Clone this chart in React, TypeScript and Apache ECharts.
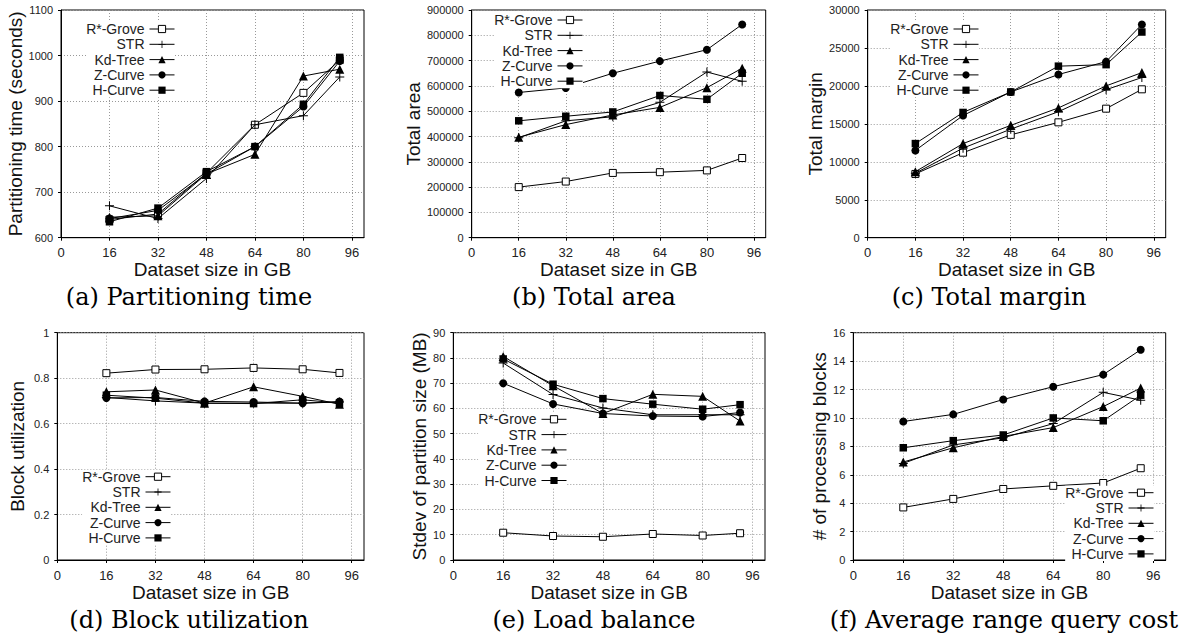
import React, { useEffect, useRef } from "react";
import * as echarts from "echarts";

// ---------- data ----------
const sizes = [16, 32, 48, 64, 80, 92];
const xTickValues = [0, 16, 32, 48, 64, 80, 96];
const methods = ["R*-Grove", "STR", "Kd-Tree", "Z-Curve", "H-Curve"];

// (a) Partitioning time (seconds)
const timeRStarGrove = [640, 652, 742, 848, 918, 990];
const timeSTR = [670, 642, 730, 848, 868, 953];
const timeKdTree = [645, 648, 740, 783, 955, 970];
const timeZCurve = [642, 660, 740, 800, 888, 988];
const timeHCurve = [635, 665, 745, 800, 893, 996];

// (b) Total area
const areaRStarGrove = [200000, 222000, 256000, 259000, 266000, 315000];
const areaSTR = [395000, 462000, 478000, 535000, 655000, 618000];
const areaKdTree = [397000, 447000, 485000, 515000, 593000, 670000];
const areaZCurve = [574000, 592000, 650000, 698000, 743000, 843000];
const areaHCurve = [462000, 480000, 497000, 562000, 547000, 650000];

// (c) Total margin
const marginRStarGrove = [8400, 11200, 13550, 15200, 17000, 19550];
const marginSTR = [8500, 11800, 14300, 16600, 19500, 21100];
const marginKdTree = [8700, 12400, 14800, 17100, 20000, 21750];
const marginZCurve = [11500, 16100, 19200, 21500, 23200, 28100];
const marginHCurve = [12400, 16500, 19200, 22600, 22800, 27100];

// (d) Block utilization
const utilRStarGrove = [0.822, 0.838, 0.839, 0.845, 0.839, 0.823];
const utilSTR = [0.715, 0.7, 0.69, 0.69, 0.69, 0.695];
const utilKdTree = [0.74, 0.748, 0.69, 0.762, 0.72, 0.685];
const utilZCurve = [0.713, 0.715, 0.698, 0.695, 0.69, 0.697];
const utilHCurve = [0.725, 0.712, 0.69, 0.688, 0.705, 0.69];

// (e) Load balance: stdev of partition size (MB)
const stdevRStarGrove = [10.8, 9.5, 9.2, 10.3, 9.7, 10.6];
const stdevSTR = [78, 65.5, 60.2, 57.5, 57.5, 57.5];
const stdevKdTree = [80.6, 69, 58, 65.6, 64.8, 55];
const stdevZCurve = [70, 61.8, 58, 57, 56.8, 58.4];
const stdevHCurve = [79.6, 69.6, 63.9, 61.7, 59.7, 61.5];

// (f) Average range query cost: # of processing blocks
const blocksRStarGrove = [3.7, 4.3, 5.0, 5.22, 5.42, 6.46];
const blocksSTR = [6.8, 8.1, 8.6, 9.6, 11.8, 11.25];
const blocksKdTree = [6.9, 7.9, 8.7, 9.32, 10.8, 12.1];
const blocksZCurve = [9.75, 10.25, 11.3, 12.2, 13.05, 14.8];
const blocksHCurve = [7.9, 8.4, 8.8, 10.0, 9.8, 11.6];

const panelValues = [
  [timeRStarGrove, timeSTR, timeKdTree, timeZCurve, timeHCurve],
  [areaRStarGrove, areaSTR, areaKdTree, areaZCurve, areaHCurve],
  [marginRStarGrove, marginSTR, marginKdTree, marginZCurve, marginHCurve],
  [utilRStarGrove, utilSTR, utilKdTree, utilZCurve, utilHCurve],
  [stdevRStarGrove, stdevSTR, stdevKdTree, stdevZCurve, stdevHCurve],
  [blocksRStarGrove, blocksSTR, blocksKdTree, blocksZCurve, blocksHCurve],
];

const captions = [
  "(a) Partitioning time",
  "(b) Total area",
  "(c) Total margin",
  "(d) Block utilization",
  "(e) Load balance",
  "(f) Average range query cost",
];
const yNames = [
  "Partitioning time (seconds)",
  "Total area",
  "Total margin",
  "Block utilization",
  "Stdev of partition size (MB)",
  "# of processing blocks",
];
const xName = "Dataset size in GB";
const yMin = [600, 0, 0, 0, 0, 0];
const yMax = [1100, 900000, 30000, 1, 90, 16];
const yInterval = [100, 100000, 5000, 0.2, 10, 2];

// ---------- layout / styles ----------
const W = 1186;
const H = 644;
const layout = [
  { left: 61, top: 10, width: 303, height: 227.7, nameGap: 33.5, lgRight: 175, lgRow: 29, cap: [189, 297], xm: 8 },
  { left: 471.7, top: 10, width: 294, height: 227.7, nameGap: 44, lgRight: 583, lgRow: 20, cap: [594, 297], xm: 8 },
  { left: 867.7, top: 10, width: 298, height: 227.7, nameGap: 38, lgRight: 979, lgRow: 29, cap: [989, 297], xm: 8 },
  { left: 57.3, top: 332.7, width: 306.7, height: 227.3, nameGap: 30.8, lgRight: 171, lgRow: 476.7, cap: [189, 620], xm: 9 },
  { left: 453.3, top: 332.7, width: 311.7, height: 227.3, nameGap: 24.8, lgRight: 567, lgRow: 419.3, cap: [594, 620], xm: 9 },
  { left: 853.3, top: 332.7, width: 312.4, height: 227.3, nameGap: 22, lgRight: 1154, lgRow: 492.7, cap: [1004, 620], xm: 9 },
];

const SANS = '"Liberation Sans", Arial, sans-serif';
const SERIF = '"DejaVu Serif", serif';

const plusPath = "path://M4,0h1v4h4v1h-4v4h-1v-4h-4v-1h4z";
const methodStyle = [
  { symbol: "rect", symbolSize: 7, itemStyle: { color: "#fff", borderColor: "#000", borderWidth: 1 } },
  { symbol: plusPath, symbolSize: 9, itemStyle: { color: "#000" } },
  { symbol: "triangle", symbolSize: 9, itemStyle: { color: "#000" } },
  { symbol: "circle", symbolSize: 8, itemStyle: { color: "#000" } },
  { symbol: "rect", symbolSize: 7.5, itemStyle: { color: "#000" } },
];

function buildOption() {
  const grid: any[] = [];
  const xAxis: any[] = [];
  const yAxis: any[] = [];
  const legend: any[] = [];
  const series: any[] = [];
  const graphic: any[] = [];

  layout.forEach((L, p) => {
    grid.push({
      left: L.left,
      top: L.top,
      width: L.width,
      height: L.height,
      show: true,
      borderColor: "#000",
      borderWidth: 1,
      backgroundColor: "transparent",
      containLabel: false,
    });
    xAxis.push({
      type: "value",
      gridIndex: p,
      min: 0,
      max: 100,
      interval: 16,
      name: xName,
      nameLocation: "middle",
      nameGap: 20,
      nameTextStyle: { fontFamily: SANS, fontSize: 19, color: "#111" },
      axisLine: { show: true, lineStyle: { color: "#000", width: 1 } },
      axisTick: { show: true, inside: false, length: 3, lineStyle: { color: "#000" }, customValues: xTickValues },
      axisLabel: {
        fontFamily: SANS,
        fontSize: 13,
        color: "#222",
        margin: L.xm,
        customValues: xTickValues,
        formatter: (v: number) => String(v),
      },
      splitLine: { show: true, lineStyle: { color: "#999", width: 1, type: [1, 2] } },
    });
    yAxis.push({
      type: "value",
      gridIndex: p,
      min: yMin[p],
      max: yMax[p],
      interval: yInterval[p],
      name: yNames[p],
      nameLocation: "middle",
      nameGap: L.nameGap,
      nameTextStyle: { fontFamily: SANS, fontSize: 19, color: "#111" },
      axisLine: { show: true, lineStyle: { color: "#000", width: 1 } },
      axisTick: { show: true, inside: false, length: 3, lineStyle: { color: "#000" } },
      axisLabel: {
        fontFamily: SANS,
        fontSize: 11,
        color: "#222",
        margin: 8,
        formatter: (v: number) => String(Math.round(v * 1000) / 1000),
      },
      splitLine: { show: true, lineStyle: { color: "#999", width: 1, type: [1, 2] } },
    });
    legend.push({
      orient: "vertical",
      align: "right",
      right: W - L.lgRight,
      top: L.lgRow - 7,
      itemWidth: 25,
      itemHeight: 9,
      itemGap: 1.3,
      padding: 0,
      backgroundColor: "#fff",
      selectedMode: false,
      data: methods,
      lineStyle: { width: 1 },
      itemStyle: { borderWidth: 1 },
      textStyle: { fontFamily: SANS, fontSize: 14, color: "#222", lineHeight: 14 },
    });
    methods.forEach((m, k) => {
      const st = methodStyle[k];
      series.push({
        type: "line",
        name: m,
        xAxisIndex: p,
        yAxisIndex: p,
        data: sizes.map((x, i) => [x, panelValues[p][k][i]]),
        symbol: st.symbol,
        symbolSize: st.symbolSize,
        showSymbol: true,
        itemStyle: st.itemStyle,
        lineStyle: { color: "#000", width: 1 },
        emphasis: { disabled: true },
        silent: true,
        z: 2 + k * 0.01,
      });
    });
    graphic.push({
      type: "text",
      x: L.cap[0],
      y: L.cap[1],
      style: {
        text: captions[p],
        font: `24px ${SERIF}`,
        fill: "#000",
        textAlign: "center",
        textVerticalAlign: "middle",
      },
    });
  });

  return {
    animation: false,
    backgroundColor: "#fff",
    grid,
    xAxis,
    yAxis,
    legend,
    series,
    graphic,
  };
}

export default function App() {
  const ref = useRef<HTMLDivElement>(null);
  useEffect(() => {
    if (!ref.current) return;
    const chart = echarts.init(ref.current, undefined, { renderer: "svg" });
    chart.setOption(buildOption() as any);
    return () => chart.dispose();
  }, []);
  return (
    <div
      ref={ref}
      style={{ position: "absolute", left: 0, top: 0, width: W, height: H, background: "#fff" }}
    />
  );
}
